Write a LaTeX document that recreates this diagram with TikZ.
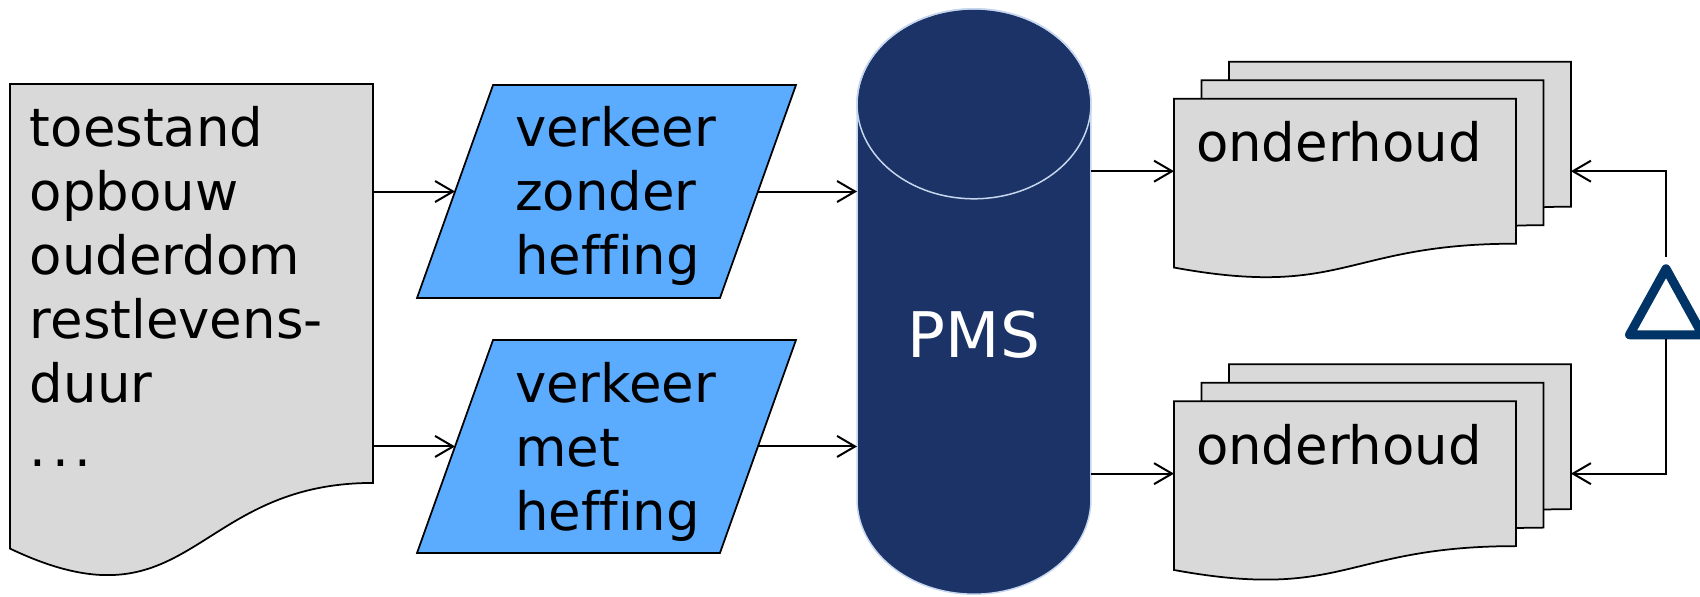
\documentclass[tikz,border=0pt]{standalone}
\usepackage{fontspec}
\setmainfont{DejaVu Sans}[Ligatures=NoCommon]
\usetikzlibrary{arrows.meta,positioning,calc,shapes.geometric}

\definecolor{docgrijs}{HTML}{D9D9D9}
\definecolor{invoerblauw}{HTML}{5BABFF}
\definecolor{pmsblauw}{HTML}{1B3366}
\definecolor{pmsrand}{HTML}{C6D6EE}
\definecolor{driehoekblauw}{HTML}{003366}

\tikzset{
  kader/.style={inner sep=0pt, outer sep=0pt},
  docrand/.style={draw=black, fill=docgrijs, line width=0.035cm},
  invoerrand/.style={draw=black, fill=invoerblauw, line width=0.035cm},
  invoer/.style={kader, minimum width=7.58cm, minimum height=4.26cm},
  ondbox/.style={kader, minimum width=6.84cm, minimum height=2.9cm},
  keuzevorm/.style={isosceles triangle, shape border rotate=90,
    isosceles triangle stretches, minimum width=1.46cm, minimum height=1.32cm,
    inner sep=0pt, draw=driehoekblauw, fill=white, line width=0.18cm,
    line join=round},
  tekst/.style={kader, align=left, anchor=north west,
    font=\fontsize{30.1}{36.4}\selectfont},
  pmstekst/.style={kader, text=white, font=\fontsize{35.8}{43}\selectfont},
  verbinding/.style={line width=0.04cm}
}

% documentvorm met golvende onderkant onder een node
\newcommand{\docvorm}[1]{%
  \draw[docrand] (#1.north west) -- (#1.north east) -- (#1.south east)
    .. controls (#1.south) and ($(#1.south)!-0.381!(#1.north)$)
    .. ($(#1.south west)!-0.1646!(#1.north west)$) -- cycle;}
% scheve invoervorm (parallellogram) binnen een node
\newcommand{\invoervorm}[1]{%
  \draw[invoerrand] ($(#1.north west)+(76,0)$) -- (#1.north east)
    -- ($(#1.south east)+(-76,0)$) -- (#1.south west) -- cycle;
  \coordinate (#1 in)  at ($(#1.west)+(38,0)$);
  \coordinate (#1 uit) at ($(#1.east)+(-38,0)$);}

\begin{document}
\begin{tikzpicture}[x=0.02cm, y=-0.02cm,
    >={Straight Barb[length=0.36cm,width=0.42cm]}]
  \useasboundingbox (0,0) rectangle (1700,596);

  % vormen
  \node[kader, minimum width=7.26cm, minimum height=7.98cm, anchor=north west] (bron) at (10,84) {};
  \node[invoer]                  (zonder) at (606.5,191.5) {};
  \node[invoer, below=0.84cm of zonder] (met) {};
  \node[kader, minimum width=4.68cm, minimum height=11.71cm] (pms) at (974,301.5) {};
  \node[ondbox, anchor=north west] (ondA) at (1174,98.7) {};
  \node[ondbox] (ondA2) at ([shift={(27.5,-18.5)}]ondA) {};
  \node[ondbox] (ondA3) at ([shift={(27.5,-18.5)}]ondA2) {};
  \node[ondbox, below=3.15cm of ondA] (ondB) {};
  \node[ondbox] (ondB2) at ([shift={(27.5,-18.5)}]ondB) {};
  \node[ondbox] (ondB3) at ([shift={(27.5,-18.5)}]ondB2) {};

  \docvorm{bron}
  \invoervorm{zonder} \invoervorm{met}
  \docvorm{ondA3} \docvorm{ondA2} \docvorm{ondA}
  \docvorm{ondB3} \docvorm{ondB2} \docvorm{ondB}

  % database
  \filldraw[fill=pmsblauw, draw=pmsrand, line width=0.03cm]
    ($(pms.north west)+(0,95)$) -- ($(pms.south west)+(0,-95)$)
    arc[start angle=180, end angle=360, x radius=2.34cm, y radius=1.9cm]
    -- ($(pms.north east)+(0,95)$)
    arc[start angle=0, end angle=180, x radius=2.34cm, y radius=1.9cm] -- cycle;
  \draw[pmsrand, line width=0.03cm] ($(pms.north)+(0,95)$)
    ellipse[x radius=2.34cm, y radius=1.9cm];

  % teksten
  \node[tekst] (brontekst) at (30,106.5) {toestand\\opbouw\\ouderdom\\restlevens-\\duur\\.\kern0.1em.\kern0.1em.};
  \node[tekst] (zondertekst) at (515,106.5) {verkeer\\zonder\\heffing};
  \node[tekst] (mettekst) at (515,362.5) {verkeer\\met\\heffing};
  \node[tekst] (ondAtekst) at (1196,121.5) {onderhoud};
  \node[tekst] (ondBtekst) at (1196,424) {onderhoud};
  \node[pmstekst, anchor=base] (pmsnaam) at (974,357) {PMS};

  % verbindingen
  \path[->, verbinding]
    (bron.east |- zonder) edge (zonder in)
    (bron.east |- met)    edge (met in)
    (zonder uit)          edge (zonder -| pms.west)
    (met uit)             edge (met -| pms.west)
    (pms.east |- ondA)    edge (ondA)
    (pms.east |- ondB)    edge (ondB);

  \node[keuzevorm, anchor=apex] (keus) at (1666,257) {};
  \draw[->, verbinding] (keus.apex)  |- (ondA3.east |- ondA);
  \draw[->, verbinding] (keus.south) |- (ondB3.east |- ondB);
\end{tikzpicture}
\end{document}
